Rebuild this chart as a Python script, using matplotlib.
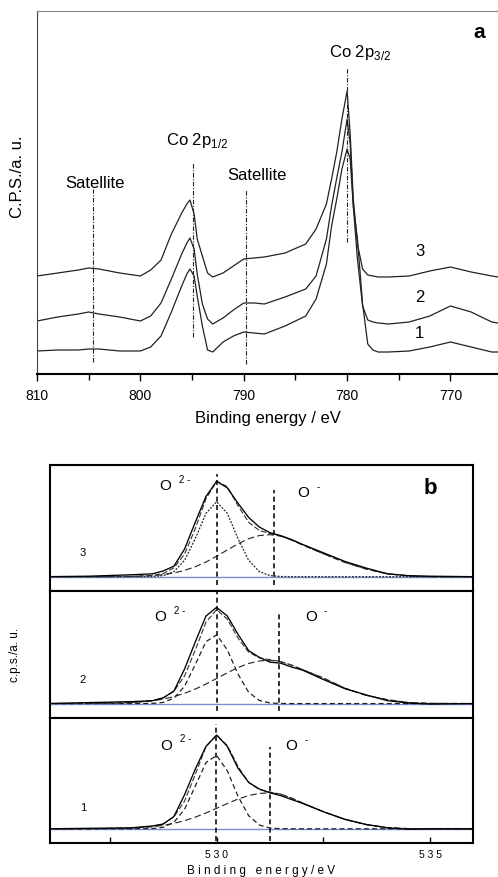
import matplotlib

matplotlib.use("Agg")
import matplotlib.pyplot as plt  # noqa: E402

plt.rcParams["font.family"] = ["Liberation Sans", "DejaVu Sans"]
plt.rcParams["mathtext.fontset"] = "custom"
plt.rcParams["mathtext.rm"] = "Liberation Sans"

# ---- painel a: Co 2p (intensidade em unidades arbitrárias) ----
be_a = [810, 808, 806, 805, 804, 802, 800, 799, 798, 797, 796, 795.5, 795.2,
        794.8, 794.5, 794, 793.5, 793, 792, 791, 790, 789, 788, 786, 784, 783,
        782, 781.5, 781, 780.5, 780, 779.7, 779.4, 779, 778.5, 778, 777.5, 777,
        776, 774, 772, 770, 768, 766, 765.4]
co_3 = [98, 101, 104, 106, 105, 101, 98, 104, 114, 140, 161, 170, 174,
        160, 135, 118, 101, 97, 101, 108, 115, 116, 117, 121, 130, 145,
        170, 195, 222, 255, 283, 240, 175, 130, 105, 99, 98, 97,
        97, 98, 103, 107, 102, 98, 97]
co_2 = [53, 57, 60, 62, 60, 57, 53, 58, 71, 95, 120, 131, 136,
        125, 100, 70, 55, 50, 56, 64, 71, 71, 70, 77, 85, 98,
        135, 168, 196, 222, 255, 230, 168, 115, 68, 54, 52, 51,
        50, 52, 58, 68, 62, 52, 51]
co_1 = [23, 24, 24, 25, 25, 23, 23, 27, 38, 62, 88, 100, 105,
        98, 78, 48, 24, 22, 32, 38, 42, 41, 40, 48, 58, 75,
        110, 148, 175, 205, 225, 215, 168, 135, 70, 30, 24, 22,
        22, 23, 27, 32, 27, 22, 22]
# linhas de referência: (posição, y inferior, y superior)
marcas_a = [(804.6, 12, 185), (794.9, 37, 212), (789.8, 10, 184), (780.0, 132, 307)]

# ---- painel b: O 1s, três amostras (normalizado) ----
be_b = [526.0, 527.0, 528.0, 528.5, 528.75, 529.0, 529.25, 529.5, 529.75, 530.0,
        530.25, 530.5, 530.75, 531.0, 531.25, 531.5, 531.75, 532.0, 532.5, 533.0,
        533.5, 534.0, 534.5, 535.0, 536.0]

dados_3 = [0.0, 0.005, 0.02, 0.03, 0.06, 0.11, 0.29, 0.57, 0.84, 1.0,
           0.93, 0.77, 0.62, 0.52, 0.46, 0.43, 0.39, 0.34, 0.25, 0.16,
           0.09, 0.03, 0.01, 0.005, 0.0]
ajuste_3 = [0.0, 0.0, 0.003, 0.013, 0.033, 0.092, 0.237, 0.503, 0.817, 0.999,
            0.943, 0.743, 0.569, 0.484, 0.451, 0.427, 0.385, 0.335, 0.24, 0.15,
            0.08, 0.03, 0.008, 0.0, 0.0]
o2_3 = [0.0, 0.0, 0.0, 0.002, 0.011, 0.053, 0.171, 0.399, 0.663, 0.785,
        0.663, 0.399, 0.171, 0.053, 0.011, 0.002, 0.0, 0.0, 0.0, 0.0,
        0.0, 0.0, 0.0, 0.0, 0.0]
o1_3 = [0.0, 0.0, 0.003, 0.011, 0.022, 0.039, 0.066, 0.104, 0.154, 0.214,
        0.28, 0.344, 0.398, 0.431, 0.44, 0.425, 0.385, 0.335, 0.24, 0.15,
        0.08, 0.03, 0.008, 0.0, 0.0]

dados_2 = [0.0, 0.01, 0.02, 0.03, 0.06, 0.13, 0.36, 0.64, 0.91, 1.0,
           0.91, 0.72, 0.55, 0.48, 0.43, 0.42, 0.38, 0.35, 0.25, 0.155,
           0.09, 0.03, 0.005, -0.005, 0.0]
ajuste_2 = [0.0, 0.001, 0.009, 0.031, 0.058, 0.128, 0.287, 0.557, 0.846, 0.976,
            0.878, 0.68, 0.534, 0.475, 0.456, 0.436, 0.4, 0.355, 0.265, 0.16,
            0.085, 0.04, 0.01, 0.002, 0.0]
o2_2 = [0.0, 0.0, 0.0, 0.002, 0.012, 0.056, 0.18, 0.406, 0.643, 0.715,
        0.558, 0.306, 0.117, 0.032, 0.006, 0.001, 0.0, 0.0, 0.0, 0.0,
        0.0, 0.0, 0.0, 0.0, 0.0]
o1_2 = [0.0, 0.001, 0.009, 0.029, 0.046, 0.072, 0.107, 0.151, 0.203, 0.261,
        0.32, 0.374, 0.417, 0.443, 0.45, 0.435, 0.4, 0.355, 0.265, 0.16,
        0.085, 0.04, 0.01, 0.002, 0.0]

dados_1 = [0.0, 0.005, 0.01, 0.03, 0.05, 0.13, 0.36, 0.63, 0.87, 0.99,
           0.87, 0.64, 0.49, 0.42, 0.38, 0.35, 0.31, 0.27, 0.18, 0.10,
           0.045, 0.01, -0.005, 0.0, 0.0]
ajuste_1 = [0.0, 0.0, 0.007, 0.025, 0.052, 0.125, 0.293, 0.574, 0.867, 0.991,
            0.879, 0.658, 0.489, 0.414, 0.388, 0.366, 0.325, 0.275, 0.18, 0.10,
            0.045, 0.012, 0.002, 0.0, 0.0]
o2_1 = [0.0, 0.0, 0.0, 0.003, 0.016, 0.068, 0.207, 0.451, 0.7, 0.775,
        0.612, 0.344, 0.138, 0.04, 0.008, 0.001, 0.0, 0.0, 0.0, 0.0,
        0.0, 0.0, 0.0, 0.0, 0.0]
o1_1 = [0.0, 0.0, 0.007, 0.022, 0.036, 0.057, 0.086, 0.123, 0.167, 0.216,
        0.267, 0.314, 0.351, 0.374, 0.38, 0.365, 0.325, 0.275, 0.18, 0.10,
        0.045, 0.012, 0.002, 0.0, 0.0]

# posições dos picos O2- e O- em cada amostra
pico_o2 = [530.0, 530.0, 529.98]
pico_o1 = [531.35, 531.47, 531.25]

fig = plt.figure(figsize=(4.98, 8.78), dpi=100)

# ================= painel a =================
ax = fig.add_axes([37 / 498, 503 / 878, 461 / 498, 363 / 878])
for y in (co_3, co_2, co_1):
    ax.plot(be_a, y, color="#222222", lw=0.9)
for x, y0, y1 in marcas_a:
    ax.plot([x, x], [y0, y1], color="#222222", lw=0.8, ls=(0, (4, 1.5, 1, 1.5)))
ax.set_xlim(810, 765.4)
ax.set_ylim(0, 363)
ax.set_yticks([])
ax.set_xticks([810, 800, 790, 780, 770])
ax.set_xticks([805, 795, 785, 775], minor=True)
ax.tick_params(axis="x", which="major", direction="out", length=5, width=1, labelsize=10, pad=5)
ax.tick_params(axis="x", which="minor", direction="out", length=4, width=1)
ax.spines["right"].set_visible(False)
ax.spines["top"].set_color("#888888")
ax.spines["left"].set_color("#444444")
ax.spines["bottom"].set_linewidth(1.5)
ax.set_xlabel("Binding energy / eV", fontsize=12, labelpad=6)

ax.text(804.4, 192, "Satellite", fontsize=12, ha="center", va="center")
ax.text(788.7, 200, "Satellite", fontsize=12, ha="center", va="center")
ax.text(794.5, 234, r"Co 2p$_{\mathregular{1/2}}$", fontsize=12, ha="center", va="center")
ax.text(778.7, 322, r"Co 2p$_{\mathregular{3/2}}$", fontsize=12, ha="center", va="center")
ax.text(767.2, 342, "a", fontsize=15, fontweight="bold", ha="center", va="center")
ax.text(773.0, 123, "3", fontsize=12, ha="center", va="center")
ax.text(773.0, 78, "2", fontsize=12, ha="center", va="center")
ax.text(773.0, 42, "1", fontsize=12, ha="center", va="center")
fig.text(18 / 498, 1 - 177 / 878, "C.P.S./a. u.", fontsize=12, rotation=90,
         ha="center", va="center")

# ================= painel b =================
amostras = [
    ("3", dados_3, ajuste_3, o2_3, o1_3, 592, 126, ":"),
    ("2", dados_2, ajuste_2, o2_2, o1_2, 719, 127, "--"),
    ("1", dados_1, ajuste_1, o2_1, o1_1, 844, 125, "--"),
]
# extensões verticais das linhas de pico (dados, ylim -0.15..1.17)
topo_o2 = [1.078, 1.17, 1.107]
base_o2 = [-0.087, -0.075, -0.126]
topo_o1 = [0.906, 0.952, 0.864]
rotulos_o2 = [(528.80, 0.96, 529.25, 1.02), (528.67, 0.91, 529.14, 0.97), (528.82, 0.89, 529.28, 0.96)]
rotulos_o1 = [(532.03, 0.89, 532.38, 0.95), (532.21, 0.91, 532.55, 0.97), (531.75, 0.89, 532.10, 0.95)]
pos_num = [0.26, 0.26, 0.23]

eixos_b = []
for i, (nome, d, aj, c2, c1, fundo, alt, estilo_o2) in enumerate(amostras):
    axb = fig.add_axes([50 / 498, (878 - fundo) / 878, 423 / 498, alt / 878])
    eixos_b.append(axb)
    axb.axhline(0, color="#7b8fd1", lw=1.0, zorder=1)
    if estilo_o2 == ":":
        axb.plot(be_b, c2, color="#222222", lw=0.9, ls=(0, (1.5, 1.2)))
    else:
        axb.plot(be_b, c2, color="#222222", lw=0.9, ls=(0, (4, 2.5)))
    axb.plot(be_b, c1, color="#222222", lw=0.8, ls=(0, (6, 3)))
    axb.plot(be_b, aj, color="#333333", lw=0.8, ls=(0, (5, 2)))
    axb.plot(be_b, d, color="black", lw=0.95)
    axb.plot([pico_o2[i]] * 2, [base_o2[i], topo_o2[i]], color="#111111", lw=1.2, ls=(0, (3, 2)))
    axb.plot([pico_o1[i]] * 2, [base_o2[i], topo_o1[i]], color="#111111", lw=1.2, ls=(0, (3, 2)))

    x, y, xs, ys = rotulos_o2[i]
    axb.text(x, y, "O", fontsize=11, ha="center", va="center")
    axb.text(xs, ys, "2 -", fontsize=7, ha="center", va="center")
    x, y, xs, ys = rotulos_o1[i]
    axb.text(x, y, "O", fontsize=11, ha="center", va="center")
    axb.text(xs, ys, "-", fontsize=7, ha="center", va="center")
    axb.text(526.87, pos_num[i], nome, fontsize=8, ha="center", va="center")

    axb.set_xlim(526.1, 536.0)
    axb.set_ylim(-0.15, 1.17)
    axb.set_yticks([])
    for s in axb.spines.values():
        s.set_linewidth(1.5)
    if i < 2:
        axb.set_xticks([])

eixos_b[0].text(535.0, 0.93, "b", fontsize=16, fontweight="bold", ha="center", va="center")

axb = eixos_b[-1]
axb.set_xticks([527.5, 530, 532.5, 535])
axb.set_xticklabels(["", "5 3 0", "", "5 3 5"])
axb.tick_params(axis="x", direction="in", length=4, width=1, labelsize=7.5, pad=4)
axb.set_xlabel("B i n d i n g   e n e r g y / e V", fontsize=8.5, labelpad=4)
fig.text(15 / 498, 1 - 655 / 878, "c.p.s./a. u.", fontsize=8.5, rotation=90,
         ha="center", va="center")

fig.savefig("out.png", dpi=100)
